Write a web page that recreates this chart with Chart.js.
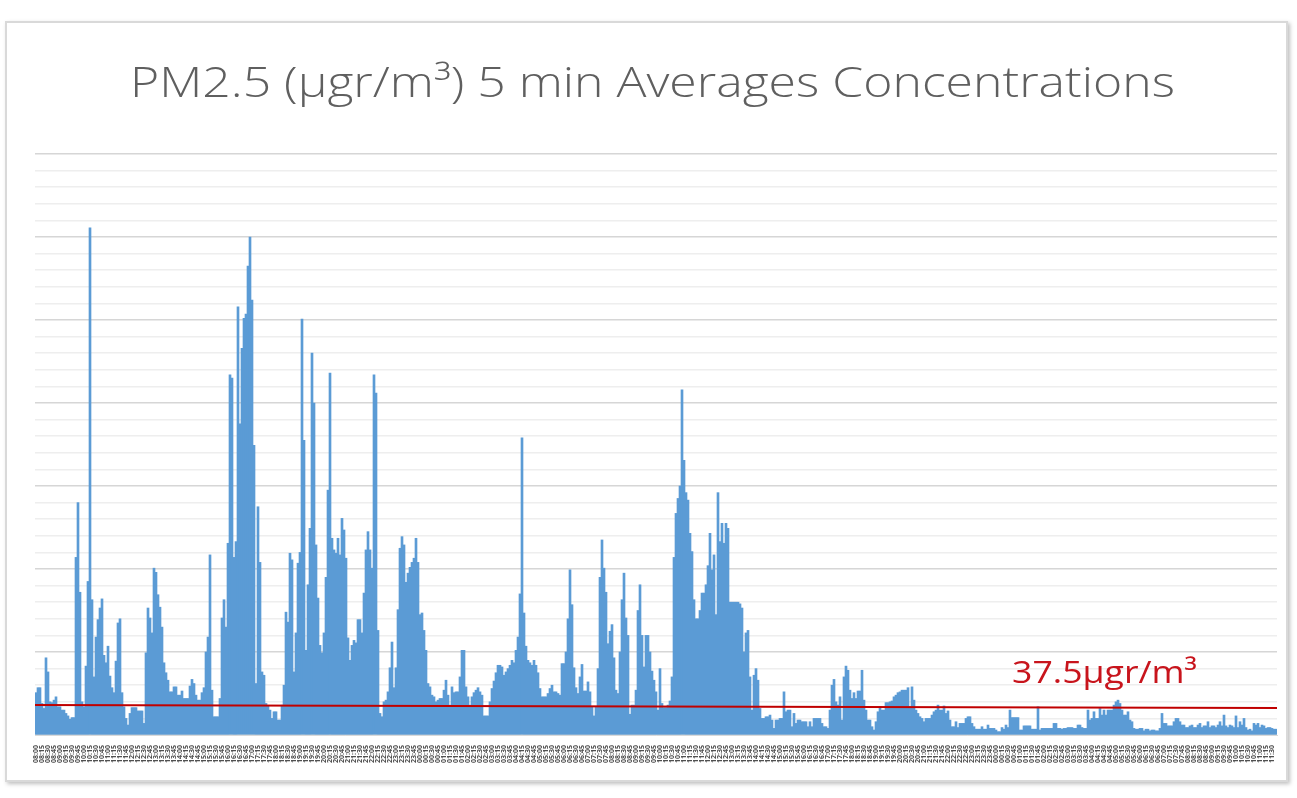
<!DOCTYPE html>
<html>
<head>
<meta charset="utf-8">
<script src="https://cdn.jsdelivr.net/npm/chart.js@4.4.1/dist/chart.umd.min.js"></script>
<style>
  html, body { margin: 0; padding: 0; background: #ffffff; }
  #frame {
    position: absolute; left: 5px; top: 21px; width: 1279px; height: 757px;
    border: 2px solid #d9d9d9; box-shadow: 2px 2px 4px rgba(0,0,0,0.25);
  }
  #wrap { position: absolute; left: 0; top: 0; width: 1297px; height: 798px; }
</style>
</head>
<body>
<div id="frame"></div>
<div id="wrap"><canvas id="pmChart"></canvas></div>
<script>
// PM2.5 5 min averages (left to right)
var PM25 = [
  51,57,57,38,32,93,76,40,39,42,46,34,34,30,30,26,23,19,21,21,
  214,280,172,40,34,83,185,611,163,70,118,139,153,164,96,87,107,71,57,51,
  89,135,140,51,34,20,12,26,33,33,33,29,29,29,14,99,153,141,123,201,
  196,169,154,130,87,75,66,52,52,58,58,48,48,53,44,44,44,59,67,62,
  48,42,42,51,57,100,118,217,54,22,22,22,44,141,163,130,231,434,430,214,
  233,516,375,466,502,507,565,600,524,349,62,275,208,76,72,38,35,30,20,28,
  28,18,18,36,60,148,136,219,211,76,123,207,220,501,355,102,181,249,460,400,
  229,165,108,99,123,190,295,436,237,223,219,237,217,261,247,213,117,90,108,114,
  111,139,139,123,171,223,245,223,201,434,412,126,26,22,40,42,52,81,112,57,
  81,151,225,239,229,184,195,202,208,213,237,208,145,147,126,102,62,58,48,46,
  40,42,44,44,54,66,48,36,58,51,52,52,70,102,102,58,46,36,46,51,
  54,57,52,48,23,23,23,40,56,65,75,84,84,82,72,76,80,84,90,87,
  102,118,170,358,147,107,90,87,84,90,84,75,56,46,46,46,50,56,60,52,
  52,50,48,86,86,100,140,199,157,81,57,50,70,85,53,53,64,52,34,23,
  34,80,190,235,201,172,110,125,133,93,54,50,100,163,195,141,120,25,36,36,
  54,150,181,120,82,120,120,100,77,66,52,30,80,38,33,33,36,41,70,214,
  267,285,300,416,331,292,283,243,221,163,140,140,150,171,171,181,204,243,199,217,
  145,292,233,255,231,255,249,160,160,160,160,160,158,153,100,123,126,70,30,72,
  80,66,32,20,20,22,22,24,18,8,18,18,20,20,52,28,30,30,10,26,
  14,18,18,16,16,16,10,16,10,20,20,20,20,14,10,10,8,30,60,67,
  40,36,46,18,70,83,78,54,44,51,44,53,53,78,42,30,18,18,10,6,
  16,28,34,30,30,39,39,40,41,46,48,51,52,54,54,54,57,34,58,42,
  30,26,22,20,16,20,20,20,24,28,30,36,30,30,35,26,29,18,10,10,
  16,9,14,14,14,20,22,22,14,10,7,7,7,10,7,7,12,8,8,8,
  6,4,4,9,7,12,9,30,21,21,21,21,6,6,11,11,11,11,7,7,
  7,34,6,8,8,8,8,8,8,14,14,8,8,7,8,8,9,9,9,8,
  8,12,12,9,8,8,30,18,20,28,20,20,32,24,30,24,30,30,30,36,
  40,42,38,30,24,24,28,18,16,8,7,7,8,8,5,7,7,5,6,6,
  5,5,8,26,14,14,11,11,11,16,20,20,16,12,12,9,9,11,12,9,
  9,12,14,9,11,11,16,9,11,11,9,12,16,11,24,11,9,12,11,9,
  23,9,16,12,20,9,6,7,5,14,12,14,9,12,11,8,9,9,8,7,
  7
];

// time stamps every 5 minutes (the axis labels are too small to read)
var START_TIME = [8, 0];   // hh, mm
var STEP_MIN = 5;
var TIME_LABELS = [];
for (var i = 0; i < PM25.length; i++) {
    var m = START_TIME[0] * 60 + START_TIME[1] + i * STEP_MIN;
    var hh = Math.floor(m / 60) % 24, mm = m % 60;
    TIME_LABELS.push((hh < 10 ? "0" : "") + hh + ":" + (mm < 10 ? "0" : "") + mm);
}

var LIMIT = 37.5;
var LIMIT_TEXT = "37.5\u03BCgr/m\u00B3";
var TITLE = "PM2.5 (\u03BCgr/m\u00B3) 5 min Averages Concentrations";
var Y_MAX = 700, Y_STEP = 20;

// text left-aligned at x, stretched horizontally to a given width
// (the original picture is a horizontally stretched screenshot)
function stretchedText(ctx, text, x, y, width) {
    var w = ctx.measureText(text).width;
    ctx.save();
    ctx.translate(x, y);
    ctx.scale(width / w, 1);
    ctx.textAlign = 'left';
    ctx.fillText(text, 0, 0);
    ctx.restore();
}

var chartTitle = {
    id: 'chartTitle',
    afterDraw: function(chart) {
        var ctx = chart.ctx;
        ctx.save();
        ctx.fillStyle = '#5f5f5f';
        ctx.font = '300 42px "Open Sans", sans-serif';
        ctx.textBaseline = 'alphabetic';
        stretchedText(ctx, TITLE, 130, 97, 1045);
        ctx.restore();
    }
};

// red limit line + its label
var limitLine = {
    id: 'limitLine',
    afterDatasetsDraw: function(chart) {
        var ctx = chart.ctx, area = chart.chartArea;
        var y = chart.scales.y.getPixelForValue(LIMIT);
        ctx.save();
        ctx.strokeStyle = '#c00000';
        ctx.lineWidth = 2;
        ctx.beginPath();
        ctx.moveTo(area.left, y + 1);
        ctx.lineTo(area.right, y + 4);
        ctx.stroke();
        ctx.fillStyle = '#c8141c';
        ctx.font = '31px "Open Sans", sans-serif';
        ctx.textBaseline = 'alphabetic';
        stretchedText(ctx, LIMIT_TEXT, area.right - 265, y - 21, 185);
        ctx.restore();
    }
};

var ctx = document.getElementById("pmChart").getContext("2d");
var pmChart = new Chart(ctx, {
    type: 'bar',
    data: {
        labels: TIME_LABELS,
        datasets: [{
            data: PM25,
            backgroundColor: '#5b9bd5',
            borderWidth: 0,
            barPercentage: 1,
            categoryPercentage: 1
        }]
    },
    options: {
        responsive: true,
        maintainAspectRatio: false,
        animation: false,
        layout: { padding: { left: 35, right: 20, top: 154, bottom: 18 } },
        plugins: {
            legend: { display: false },
            tooltip: { enabled: false },
            title: { display: false }
        },
        scales: {
            x: {
                grid: { display: false },
                border: { display: true, color: '#d9d9d9', width: 1 },
                ticks: {
                    autoSkip: false,
                    maxRotation: 90,
                    minRotation: 90,
                    padding: 2,
                    color: '#505050',
                    font: { family: '"Open Sans", sans-serif', size: 7, weight: 'bold' },
                    callback: function(val, idx) {
                        return idx % 3 === 0 ? this.getLabelForValue(val) : '';
                    }
                },
                afterFit: function(scale) { scale.height = 45; }
            },
            y: {
                min: 0,
                max: Y_MAX,
                ticks: { display: false, stepSize: Y_STEP },
                border: { display: false },
                grid: {
                    drawTicks: false,
                    color: function(c) {
                        return c.tick && c.tick.value % 100 === 0 ? '#d6d6d6' : '#eeeeee';
                    },
                    lineWidth: 1.5
                },
                afterFit: function(scale) { scale.width = 0; }
            }
        }
    },
    plugins: [limitLine, chartTitle]
});
</script>
</body>
</html>
